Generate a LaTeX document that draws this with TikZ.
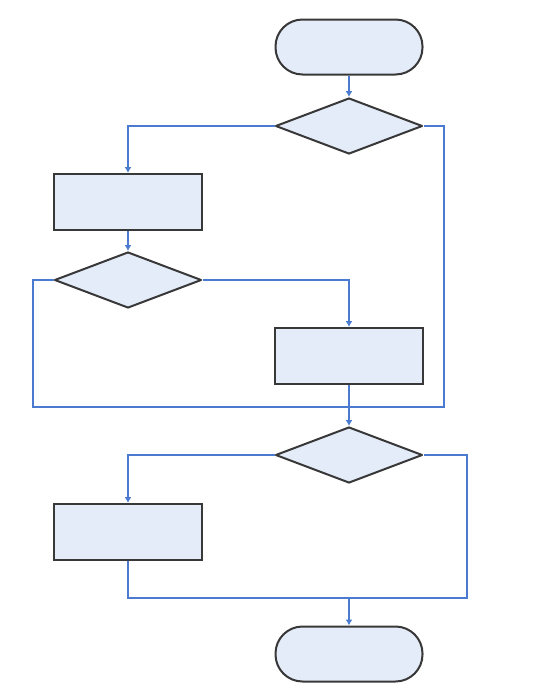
\documentclass[tikz,border=0pt]{standalone}
\usetikzlibrary{shapes.geometric,arrows.meta}
\definecolor{fillc}{HTML}{E4EBF9}
\definecolor{edgec}{HTML}{383838}
\definecolor{linec}{HTML}{4A7BD0}
\begin{document}
\begin{tikzpicture}[x=1pt,y=-1pt,
  box/.style={draw=edgec,line width=2pt,fill=fillc,minimum width=148pt,minimum height=56pt,inner sep=0pt},
  term/.style={box,rounded corners=27pt,minimum height=55pt,minimum width=147pt},
  dec/.style={diamond,draw=edgec,line width=2pt,line join=round,fill=fillc,minimum width=147pt,minimum height=56pt,inner sep=0pt,aspect=2.6},
  conn/.style={draw=linec,line width=1.4pt},
  arr/.style={conn,-{Latex[length=6pt,width=7pt]}}]
\useasboundingbox (0,0) rectangle (547,686);
\node[term] (start) at (349,47) {};
\node[dec] (d1) at (349,126) {};
\node[box] (r1) at (128,202) {};
\node[dec] (d2) at (128,280) {};
\node[box] (r2) at (349,356) {};
\node[dec] (d3) at (349,455) {};
\node[box] (r3) at (128,532) {};
\node[term] (end) at (349,654) {};
\coordinate (m1) at (349,407);
\coordinate (m2) at (349,598);
\coordinate (c1) at (444,407);
\coordinate (c2) at (33,407);
\coordinate (c3) at (467,598);
\draw[arr] (start.south) -- (d1.north);
\draw[arr] (d1.west) -| (r1.north);
\draw[conn] (d1.east) -| (c1) -- (m1);
\draw[arr] (r1.south) -- (d2.north);
\draw[conn] (d2.west) -| (c2) -- (m1);
\draw[arr] (d2.east) -| (r2.north);
\draw[arr] (r2.south) -- (d3.north);
\draw[arr] (d3.west) -| (r3.north);
\draw[conn] (d3.east) -| (c3) -- (m2);
\draw[conn] (r3.south) |- (m2);
\draw[arr] (m2) -- (end.north);
\end{tikzpicture}
\end{document}
